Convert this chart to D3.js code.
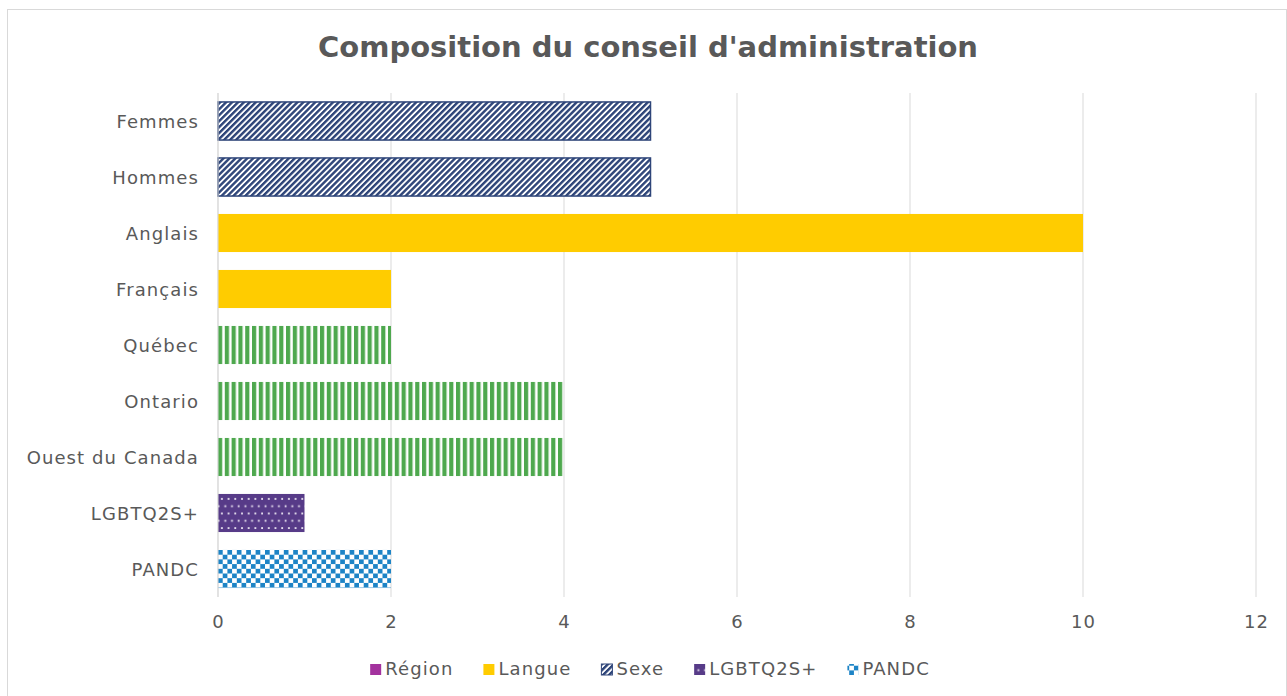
<!DOCTYPE html>
<html>
<head>
  <meta charset="utf-8">
  <title>Composition du conseil d'administration</title>
  <script src="https://d3js.org/d3.v7.min.js"></script>
  <style>
    body { margin: 0; background: #fff; }
    text { font-family: "DejaVu Sans", "Noto Sans", sans-serif; fill: #595959; }
    .lbl { font-size: 18px; letter-spacing: 1.1px; }
  </style>
</head>
<body>
  <svg id="chart"></svg>

  <script>
    // data
    var categories = ["Femmes", "Hommes", "Anglais", "Français", "Québec", "Ontario", "Ouest du Canada", "LGBTQ2S+", "PANDC"];
    var values = [5, 5, 10, 2, 2, 4, 4, 1, 2];
    var groups = ["Sexe", "Sexe", "Langue", "Langue", "Région", "Région", "Région", "LGBTQ2S+", "PANDC"];
    var legendNames = ["Région", "Langue", "Sexe", "LGBTQ2S+", "PANDC"];
    var xTicks = [0, 2, 4, 6, 8, 10, 12];

    var width = 1287, height = 696;
    var margin = { top: 93, right: 31, bottom: 99, left: 218 };

    var svg = d3.select("#chart")
                .attr("width", width)
                .attr("height", height);

    // patterns
    var defs = svg.append("defs");

    var p = defs.append("pattern").attr("id", "pat-sexe")
      .attr("patternUnits", "userSpaceOnUse").attr("width", 4.2).attr("height", 4.2)
      .attr("patternTransform", "rotate(45)");
    p.append("rect").attr("width", 4.2).attr("height", 4.2).attr("fill", "#fff");
    p.append("rect").attr("width", 2.4).attr("height", 4.2).attr("fill", "#2e4579");

    p = defs.append("pattern").attr("id", "pat-region")
      .attr("patternUnits", "userSpaceOnUse").attr("width", 6.8).attr("height", 10).attr("x", 218);
    p.append("rect").attr("width", 4.2).attr("height", 10).attr("fill", "#4ea84e");

    p = defs.append("pattern").attr("id", "pat-lgbt")
      .attr("patternUnits", "userSpaceOnUse").attr("width", 13.4).attr("height", 14.6).attr("x", 218).attr("y", 494);
    p.append("rect").attr("width", 13.4).attr("height", 14.6).attr("fill", "#573b88");
    [[3, 4], [9.7, 4], [6.4, 11.3], [13.1, 11.3], [-0.3, 11.3]].forEach(function (d) {
      p.append("rect").attr("x", d[0]).attr("y", d[1]).attr("width", 1.8).attr("height", 1.8).attr("fill", "#efeaf5");
    });

    p = defs.append("pattern").attr("id", "pat-pandc")
      .attr("patternUnits", "userSpaceOnUse").attr("width", 9.4).attr("height", 9.4).attr("x", 218).attr("y", 550);
    p.append("rect").attr("width", 4.7).attr("height", 4.7).attr("fill", "#1d84c6");
    p.append("rect").attr("x", 4.7).attr("y", 4.7).attr("width", 4.7).attr("height", 4.7).attr("fill", "#1d84c6");

    var fills = {
      "Sexe": "url(#pat-sexe)",
      "Langue": "#ffcc00",
      "Région": "url(#pat-region)",
      "LGBTQ2S+": "url(#pat-lgbt)",
      "PANDC": "url(#pat-pandc)"
    };
    var strokes = { "Sexe": "#2e4579" };

    // outer frame
    svg.append("rect")
       .attr("x", 7.5).attr("y", 9.5)
       .attr("width", width - 8).attr("height", height)
       .attr("fill", "none").attr("stroke", "#d9d9d9");

    // title
    svg.append("text")
       .attr("x", 648).attr("y", 57)
       .attr("text-anchor", "middle")
       .style("font-size", "29px").style("font-weight", "bold")
       .text("Composition du conseil d'administration");

    var x = d3.scaleLinear().domain([0, 12]).range([margin.left, width - margin.right]);
    var y = d3.scaleBand().domain(categories)
              .range([margin.top, height - margin.bottom])
              .paddingInner(0.32).paddingOuter(0.16);

    // gridlines
    svg.append("g").selectAll("line")
       .data(xTicks).enter().append("line")
       .attr("x1", d => x(d)).attr("x2", d => x(d))
       .attr("y1", margin.top).attr("y2", height - margin.bottom)
       .attr("stroke", "#d9d9d9").attr("stroke-width", 1);

    // x axis
    var xAxis = svg.append("g")
       .attr("transform", "translate(0," + (height - margin.bottom) + ")")
       .call(d3.axisBottom(x).tickValues(xTicks).tickSize(0).tickPadding(18));
    xAxis.select(".domain").remove();
    xAxis.selectAll("text").attr("class", "lbl").attr("fill", "#595959");

    // y axis
    var yAxis = svg.append("g")
       .attr("transform", "translate(" + margin.left + ",0)")
       .call(d3.axisLeft(y).tickSize(0).tickPadding(19));
    yAxis.select(".domain").remove();
    yAxis.selectAll("text").attr("class", "lbl").attr("fill", "#595959").attr("dy", "0.37em");

    // bars
    svg.append("g").selectAll("rect")
       .data(categories).enter().append("rect")
       .attr("x", x(0))
       .attr("y", d => y(d))
       .attr("height", y.bandwidth())
       .attr("width", (d, i) => x(values[i]) - x(0))
       .attr("fill", (d, i) => fills[groups[i]])
       .attr("stroke", (d, i) => strokes[groups[i]] || "none")
       .attr("stroke-width", 1.5);

    // axis line at zero
    svg.append("line")
       .attr("x1", x(0)).attr("x2", x(0))
       .attr("y1", margin.top).attr("y2", height - margin.bottom)
       .attr("stroke", "#d9d9d9");

    // legend
    var legendFills = {
      "Région": "#a3329e",
      "Langue": "#ffcc00",
      "Sexe": "url(#pat-sexe)",
      "LGBTQ2S+": "url(#pat-lgbt)",
      "PANDC": "url(#pat-pandc)"
    };
    var legend = svg.append("g");
    var lx = 0;
    legendNames.forEach(function (name) {
      var g = legend.append("g").attr("transform", "translate(" + lx + ",0)");
      g.append("rect").attr("x", 0).attr("y", -11).attr("width", 11).attr("height", 11)
       .attr("fill", legendFills[name])
       .attr("stroke", name === "Sexe" ? "#2e4579" : "none");
      var t = g.append("text").attr("class", "lbl").attr("x", 15).attr("y", 0).text(name);
      lx += 15 + t.node().getComputedTextLength() + 30;
    });
    lx -= 30;
    legend.attr("transform", "translate(" + (650 - lx / 2) + ",675)");
  </script>
</body>
</html>
